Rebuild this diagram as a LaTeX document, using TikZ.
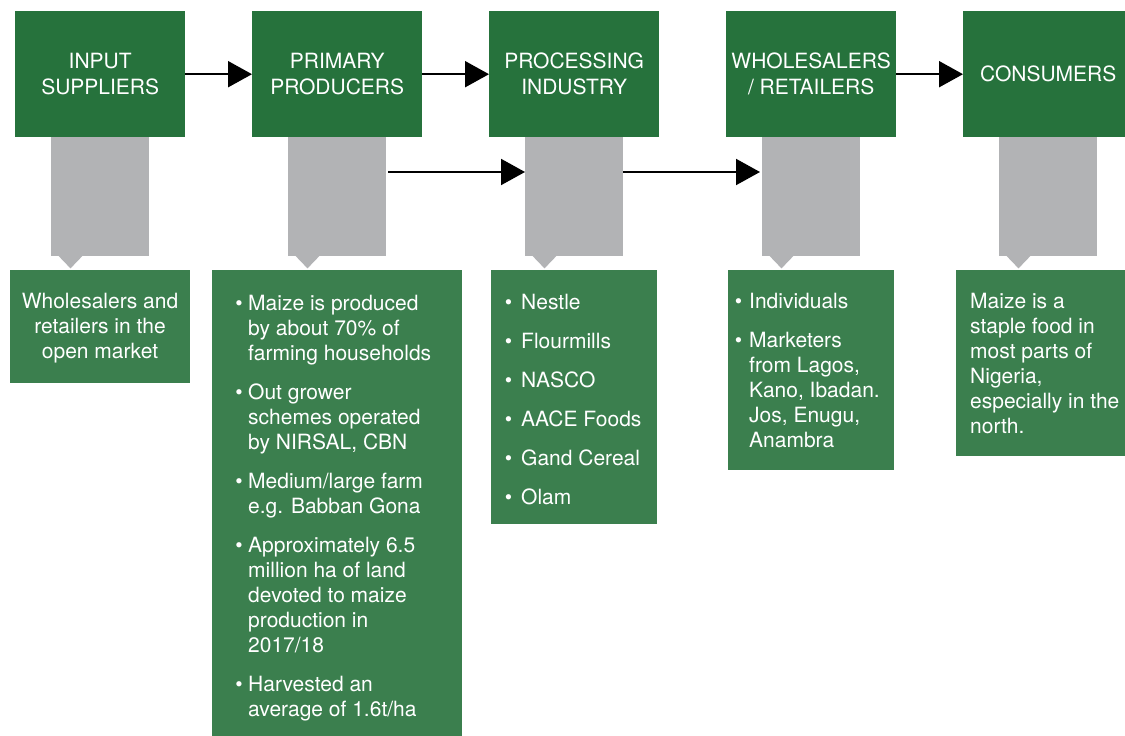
\documentclass[tikz,border=0pt]{standalone}
\usepackage{fontspec}
\setmainfont{TeX Gyre Heros}
\usetikzlibrary{arrows.meta,calc}
\definecolor{topgreen}{HTML}{26723C}
\definecolor{botgreen}{HTML}{3B7F4E}
\definecolor{callgray}{HTML}{B2B3B5}
\newcommand\bitem[2]{\par\noindent\llap{\textbullet\hspace{#1}}#2\par}
\newenvironment{boxtext}[1]{\begin{minipage}[t]{#1}\fontsize{21}{25}\selectfont\setlength{\parskip}{14pt}\setlength{\parindent}{0pt}\raggedright}{\end{minipage}}
\begin{document}
\begin{tikzpicture}[x=1pt,y=-1pt,
  topbox/.style={fill=topgreen, draw=none, anchor=north west, minimum width=170pt, minimum height=126pt, inner sep=0pt, text=white, align=center, font=\fontsize{21}{26}\selectfont},
  botbox/.style={fill=botgreen, draw=none, anchor=north west, inner sep=0pt},
  graybox/.style={fill=callgray, draw=none, anchor=north west, minimum width=98pt, minimum height=119pt, inner sep=0pt},
  txt/.style={inner sep=0pt, text=white, anchor=base west},
  arr/.style={line width=2pt, -{Triangle[length=24pt,width=26pt]}}
]
\useasboundingbox (0,0) rectangle (1125,736);

% top boxes
\node[topbox] (t1) at (15,11) {INPUT\\SUPPLIERS};
\node[topbox] (t2) at (252,11) {PRIMARY\\PRODUCERS};
\node[topbox] (t3) at (489,11) {PROCESSING\\INDUSTRY};
\node[topbox] (t4) at (726,11) {WHOLESALERS\\/ RETAILERS};
\node[topbox, minimum width=162pt] (t5) at (963,11) {\hspace*{8pt}CONSUMERS};

% gray callouts
\foreach \i/\x in {1/51,2/288,3/525,4/762,5/999}{
  \node[graybox] (g\i) at (\x,137) {};
  \fill[callgray] ($(g\i.south west)+(7.5,-0.5)$) -- ++(24,0) -- ++(-12,12.5) -- cycle;
}

% bottom boxes
\node[botbox, minimum width=180pt, minimum height=113pt] (b1) at (10,270) {};
\node[botbox, minimum width=250pt, minimum height=466pt] (b2) at (212,270) {};
\node[botbox, minimum width=166pt, minimum height=254pt] (b3) at (491,270) {};
\node[botbox, minimum width=166pt, minimum height=200pt] (b4) at (728,270) {};
\node[botbox, minimum width=169pt, minimum height=186pt] (b5) at (956,270) {};

% texts
\node[txt, anchor=base] (x1) at (100,308) {\begin{boxtext}{176pt}\centering Wholesalers and\\retailers in the\\open market\end{boxtext}};
\node[txt] (x2) at (248,310) {\begin{boxtext}{212pt}%
\bitem{5.5pt}{Maize is produced\\by about 70\% of\\farming households}
\bitem{5.5pt}{Out grower\\schemes operated\\by NIRSAL, CBN}
\bitem{5.5pt}{Medium/large farm\\e.g. Babban Gona}
\bitem{5.5pt}{Approximately 6.5\\million ha of land\\devoted to maize\\production in\\2017/18}
\bitem{5.5pt}{Harvested an\\average of 1.6t/ha}
\end{boxtext}};
\node[txt] (x3) at (521,309) {\begin{boxtext}{134pt}%
\bitem{9pt}{Nestle}
\bitem{9pt}{Flourmills}
\bitem{9pt}{NASCO}
\bitem{9pt}{AACE Foods}
\bitem{9pt}{Gand Cereal}
\bitem{9pt}{Olam}
\end{boxtext}};
\node[txt] (x4) at (749,308) {\begin{boxtext}{144pt}%
\bitem{7pt}{Individuals}
\bitem{7pt}{Marketers\\from Lagos,\\Kano, Ibadan.\\Jos, Enugu,\\Anambra}
\end{boxtext}};
\node[txt] (x5) at (970,308) {\begin{boxtext}{154pt}%
Maize is a\\staple food in\\most parts of\\Nigeria,\\especially in the\\north.
\end{boxtext}};

% arrows
\draw[arr] (t1.east) -- (t2.west);
\draw[arr] (t2.east) -- (t3.west);
\draw[arr] (t4.east) -- (t5.west);
\draw[arr] ($(g2.north east)+(2,35)$) -- ($(g3.north west)+(0,35)$);
\draw[arr] ($(g3.north east)+(0,35)$) -- ($(g4.north west)+(-2,35)$);
\end{tikzpicture}
\end{document}
